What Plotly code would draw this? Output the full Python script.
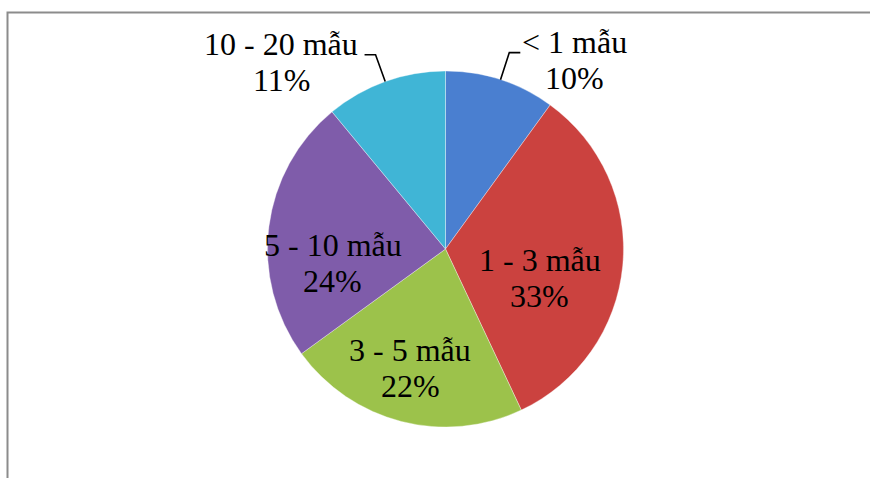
import math
import plotly.graph_objects as go

categories = ["< 1 mẫu", "1 - 3 mẫu", "3 - 5 mẫu", "5 - 10 mẫu", "10 - 20 mẫu"]
values = [10, 33, 22, 24, 11]
colors = ["#4A7FD0", "#CB423F", "#9CC24B", "#7F5CAA", "#40B5D6"]

# label placement style: (radius fraction, angle offset deg, leader line?)
label_style = [(1.287, 16.4, True), (0.555, 11.6, False), (0.698, 2.2, False),
               (0.637, -14.3, False), (1.40, -21.5, True)]

W, H = 870, 478
CX, CY, R = 445.5, 249.0, 178.0

fig = go.Figure(go.Pie(
    labels=categories, values=values, sort=False, direction="clockwise", rotation=0,
    marker=dict(colors=colors, line=dict(color="rgba(255,255,255,0.35)", width=1)),
    textinfo="none", hoverinfo="label+percent", showlegend=False,
    domain=dict(x=[(CX - R) / W, (CX + R) / W], y=[(H - CY - R) / H, (H - CY + R) / H]),
))

def px(x):
    return x / W

def py(y):
    return 1 - y / H

font = dict(family="Liberation Serif", size=32, color="#000000")
total = sum(values)
cum = 0
annotations = []
shapes = []
for cat, v, (rf, dth, leader) in zip(categories, values, label_style):
    mid = (cum + v / 2) / total * 360
    cum += v
    th = math.radians(mid + dth)
    lx = CX + rf * R * math.sin(th)
    ly = CY - rf * R * math.cos(th)
    pct = f"{round(v / total * 100)}%"
    annotations.append(dict(x=px(lx), y=py(ly - 18), xref="paper", yref="paper", text=cat,
                            showarrow=False, font=font, xanchor="center", yanchor="middle"))
    annotations.append(dict(x=px(lx), y=py(ly + 18), xref="paper", yref="paper", text=pct,
                            showarrow=False, font=font, xanchor="center", yanchor="middle"))
    if leader:
        m = math.radians(mid)
        x0, y0 = CX + R * math.sin(m), CY - R * math.cos(m)
        x1, y1 = CX + 1.16 * R * math.sin(m), CY - 1.16 * R * math.cos(m)
        x2 = x1 + (11 if math.sin(m) > 0 else -11)
        shapes.append(dict(type="path", xref="paper", yref="paper",
                           path=f"M {px(x0)} {py(y0)} L {px(x1)} {py(y1)} L {px(x2)} {py(y1)}",
                           line=dict(color="#000000", width=1.6)))

# chart frame (left and top edges visible)
shapes.append(dict(type="path", xref="paper", yref="paper",
                   path=f"M {px(7.5)} 0 L {px(7.5)} {py(12.5)} L 1 {py(12.5)}",
                   line=dict(color="#8C8C8C", width=2)))

fig.update_layout(width=W, height=H, margin=dict(l=0, r=0, t=0, b=0),
                  paper_bgcolor="white", plot_bgcolor="white",
                  font=dict(family="Liberation Serif"),
                  annotations=annotations, shapes=shapes)
fig.write_html("out.html")
